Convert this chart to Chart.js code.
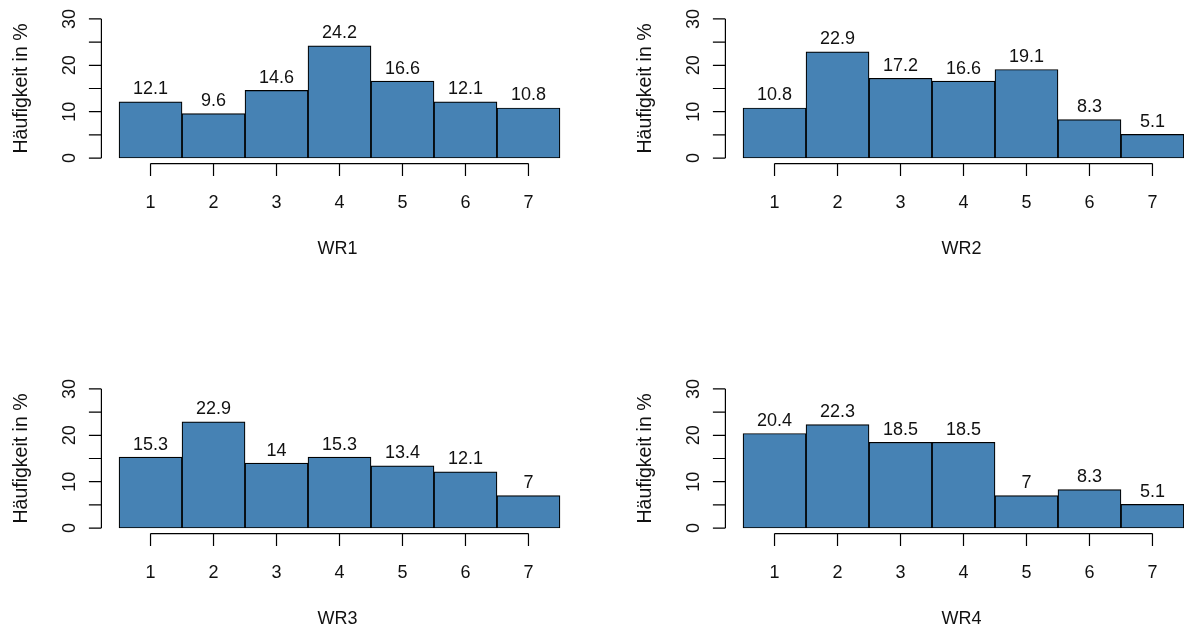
<!DOCTYPE html>
<html>
<head>
<meta charset="utf-8">
<title>Häufigkeit WR1–WR4</title>
<script src="https://cdn.jsdelivr.net/npm/chart.js@4/dist/chart.umd.min.js"></script>
<style>
  html, body { margin: 0; padding: 0; background: #fff; overflow: hidden; }
  #page { position: relative; width: 1184px; height: 628px; overflow: hidden; background: #fff; }
  #page canvas { position: absolute; }
</style>
</head>
<body>
<div id="page">
  <canvas id="c1" width="592" height="258" style="left:0px;top:0px"></canvas>
  <canvas id="c2" width="592" height="258" style="left:624px;top:0px"></canvas>
  <canvas id="c3" width="592" height="258" style="left:0px;top:370px"></canvas>
  <canvas id="c4" width="592" height="258" style="left:624px;top:370px"></canvas>
</div>
<script>
// Answer categories (1..7) shared by all four items
const categories = [1, 2, 3, 4, 5, 6, 7];

// Relative frequencies in percent, one array per item
const wr1 = [12.1, 9.6, 14.6, 24.2, 16.6, 12.1, 10.8];
const wr2 = [10.8, 22.9, 17.2, 16.6, 19.1, 8.3, 5.1];
const wr3 = [15.3, 22.9, 14, 15.3, 13.4, 12.1, 7];
const wr4 = [20.4, 22.3, 18.5, 18.5, 7, 8.3, 5.1];

// Item names used as x-axis titles
const itemNames = ['WR1', 'WR2', 'WR3', 'WR4'];

// Y-axis tick marks and the subset that carries a label
const yTicks = [0, 5, 10, 15, 20, 25, 30];
const yTickLabels = [0, 10, 20, 30];

const yTitle = 'Häufigkeit in %';

const FAMILY = '"Liberation Sans", Arial, Helvetica, sans-serif';
const FONT = '18px ' + FAMILY;
const TITLE_FONT = '19.5px ' + FAMILY;
const INK = '#000';
const TEXT = '#111';
const BAR_FILL = '#4682B4';

// Base-graphics style axes, value labels and titles drawn on top of the bars
const baseAxes = {
  id: 'baseAxes',
  afterDraw(chart, args, opts) {
    const ctx = chart.ctx;
    const xs = chart.scales.x;
    const ys = chart.scales.y;
    const area = chart.chartArea;
    const tick = 12.5;

    ctx.save();
    ctx.strokeStyle = INK;
    ctx.fillStyle = TEXT;
    ctx.lineWidth = 1.2;
    ctx.font = FONT;

    // y axis: line from first to last tick, outward tick marks
    const yFirst = ys.getPixelForValue(yTicks[0]);
    const yLast = ys.getPixelForValue(yTicks[yTicks.length - 1]);
    ctx.beginPath();
    ctx.moveTo(area.left, yFirst);
    ctx.lineTo(area.left, yLast);
    yTicks.forEach(v => {
      const py = ys.getPixelForValue(v);
      ctx.moveTo(area.left, py);
      ctx.lineTo(area.left - tick, py);
    });
    ctx.stroke();

    // y tick labels, written parallel to the axis
    yTickLabels.forEach(v => {
      const py = ys.getPixelForValue(v);
      ctx.save();
      ctx.translate(area.left - 26.5, py);
      ctx.rotate(-Math.PI / 2);
      ctx.textAlign = 'center';
      ctx.textBaseline = 'alphabetic';
      ctx.fillText(String(v), 0, 0);
      ctx.restore();
    });

    // y axis title
    ctx.save();
    ctx.font = TITLE_FONT;
    ctx.translate(27, (area.top + area.bottom) / 2);
    ctx.rotate(-Math.PI / 2);
    ctx.textAlign = 'center';
    ctx.textBaseline = 'alphabetic';
    ctx.fillText(yTitle, 0, 0);
    ctx.restore();

    // x axis: line from first to last category, ticks below
    const xFirst = xs.getPixelForValue(categories[0]);
    const xLast = xs.getPixelForValue(categories[categories.length - 1]);
    ctx.beginPath();
    ctx.moveTo(xFirst, area.bottom);
    ctx.lineTo(xLast, area.bottom);
    categories.forEach(c => {
      const px = xs.getPixelForValue(c);
      ctx.moveTo(px, area.bottom);
      ctx.lineTo(px, area.bottom + tick);
    });
    ctx.stroke();

    ctx.textAlign = 'center';
    ctx.textBaseline = 'alphabetic';
    categories.forEach(c => {
      ctx.fillText(String(c), xs.getPixelForValue(c), area.bottom + 44.5);
    });

    // value labels above each bar
    const meta = chart.getDatasetMeta(0);
    const values = chart.data.datasets[0].data;
    meta.data.forEach((bar, i) => {
      ctx.fillText(String(values[i].y), bar.x, bar.y - 7.5);
    });

    // x axis title
    ctx.fillText(opts.title, (area.left + area.right) / 2 - 2, area.bottom + 90.5);
    ctx.restore();
  }
};

function makePanel(canvasId, values, title) {
  return new Chart(document.getElementById(canvasId), {
    type: 'bar',
    data: {
      datasets: [{
        data: values.map((v, i) => ({ x: categories[i], y: v })),
        backgroundColor: BAR_FILL,
        borderColor: INK,
        borderWidth: 1.2,
        borderSkipped: false,
        barPercentage: 1,
        categoryPercentage: 1
      }]
    },
    options: {
      responsive: false,
      animation: false,
      devicePixelRatio: 1,
      layout: { padding: { left: 101.4, right: 14.4, top: 13.4, bottom: 94.4 } },
      scales: {
        x: {
          type: 'linear', min: 0.22, max: 7.78, offset: false, display: false,
          ticks: { stepSize: 1, includeBounds: false }
        },
        y: { type: 'linear', min: -1.2, max: 31.2, display: false }
      },
      plugins: {
        legend: { display: false },
        tooltip: { enabled: false },
        baseAxes: { title: title }
      }
    },
    plugins: [baseAxes]
  });
}

makePanel('c1', wr1, itemNames[0]);
makePanel('c2', wr2, itemNames[1]);
makePanel('c3', wr3, itemNames[2]);
makePanel('c4', wr4, itemNames[3]);
</script>
</body>
</html>
